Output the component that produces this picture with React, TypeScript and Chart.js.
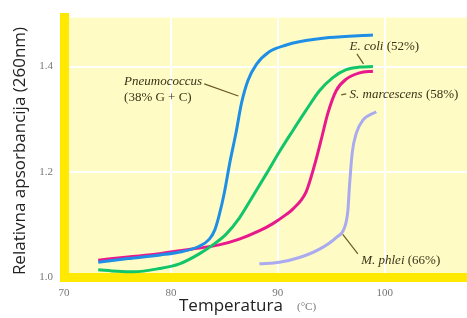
import React, { useEffect, useRef } from "react";
import { Chart, registerables } from "chart.js";

Chart.register(...registerables);

// ---- data (temperature °C, relative absorbance) ----
const pneumoT = [73.2, 76, 79, 81, 82.6, 83.6, 84.1, 84.5, 85, 85.5, 86.1, 86.6, 87.2, 88, 89.2, 90.8, 92, 94.8, 98.9];
const pneumoA = [1.028, 1.035, 1.042, 1.048, 1.058, 1.072, 1.089, 1.116, 1.16, 1.216, 1.275, 1.33, 1.373, 1.404, 1.428, 1.441, 1.447, 1.455, 1.46];

const coliT = [73.2, 75, 76.5, 78.9, 80.8, 82.65, 84.06, 85.15, 86.4, 87.65, 88.9, 90.15, 91.4, 92.65, 93.9, 95.15, 96.4, 97.65, 98.9];
const coliA = [1.014, 1.011, 1.01, 1.016, 1.025, 1.044, 1.063, 1.081, 1.112, 1.153, 1.195, 1.238, 1.278, 1.317, 1.354, 1.379, 1.394, 1.399, 1.4];

const marcT = [73.2, 76, 78.9, 80.8, 82.65, 84.5, 86.4, 88.3, 89.5, 90.8, 91.4, 92.65, 93.43, 94.06, 94.68, 95.46, 96.4, 97.65, 98.9];
const marcA = [1.032, 1.038, 1.044, 1.05, 1.055, 1.061, 1.072, 1.088, 1.101, 1.119, 1.129, 1.162, 1.212, 1.261, 1.311, 1.354, 1.376, 1.388, 1.391];

const phleiT = [88.28, 90.15, 92.02, 93.9, 95.46, 96.24, 96.55, 96.71, 96.96, 97.34, 97.96, 99.21];
const phleiA = [1.025, 1.028, 1.037, 1.053, 1.075, 1.094, 1.125, 1.174, 1.236, 1.273, 1.298, 1.314];

const seriesNames = ["Pneumococcus", "E. coli", "S. marcescens", "M. phlei"];
const seriesPercents = ["(38% G + C)", "(52%)", "(58%)", "(66%)"];
const seriesColors = ["#1f8fe6", "#12c46a", "#e8198c", "#aaaaf0"];

const xTicks = [70, 80, 90, 100];
const yTicks = [1.0, 1.2, 1.4];

const xTitle = "Temperatura";
const xUnit = "(°C)";
const yTitle = "Relativna apsorbancija (260nm)";

// label anchors in data coordinates [T, A] and leader lines
const labelAnchors: number[][] = [
  [75.62, 1.372],
  [96.71, 1.437],
  [96.71, 1.346],
  [97.8, 1.032],
];
const leaderLines: number[][] = [
  [83.12, 1.367, 86.31, 1.344],
  [97.4, 1.424, 98.02, 1.405],
  [95.93, 1.346, 96.4, 1.348],
  [96.08, 1.081, 97.49, 1.044],
];

const zip = (t: number[], a: number[]) => t.map((v, i) => ({ x: v, y: a[i] }));

const decor = {
  id: "decor",
  beforeDraw(chart: any) {
    const { ctx, chartArea } = chart;
    ctx.save();
    ctx.fillStyle = "#fefcc4";
    ctx.fillRect(chartArea.left, chartArea.top, chartArea.right - chartArea.left, chartArea.bottom - chartArea.top);
    ctx.restore();
  },
  afterDatasetsDraw(chart: any) {
    const { ctx } = chart;
    const xs = chart.scales.x;
    const ys = chart.scales.y;
    ctx.save();
    // leaders
    ctx.strokeStyle = "#6a5a24";
    ctx.lineWidth = 1.2;
    for (const l of leaderLines) {
      ctx.beginPath();
      ctx.moveTo(xs.getPixelForValue(l[0]), ys.getPixelForValue(l[1]));
      ctx.lineTo(xs.getPixelForValue(l[2]), ys.getPixelForValue(l[3]));
      ctx.stroke();
    }
    // labels
    ctx.fillStyle = "#3a3218";
    ctx.textBaseline = "middle";
    ctx.textAlign = "left";
    const ital = "italic 13px 'Liberation Serif', serif";
    const up = "13px 'Liberation Serif', serif";
    seriesNames.forEach((name, i) => {
      const px = xs.getPixelForValue(labelAnchors[i][0]);
      const py = ys.getPixelForValue(labelAnchors[i][1]);
      ctx.font = ital;
      ctx.fillText(name, px, py);
      if (i === 0) {
        ctx.font = up;
        ctx.fillText(seriesPercents[i], px, py + 16);
      } else {
        const w = ctx.measureText(name + " ").width;
        ctx.font = up;
        ctx.fillText(seriesPercents[i], px + w, py);
      }
    });
    // axis titles
    ctx.fillStyle = "#222";
    ctx.font = "17px 'Open Sans', sans-serif";
    ctx.textAlign = "left";
    ctx.fillText(xTitle, 179, 306);
    ctx.font = "11px 'Liberation Serif', serif";
    ctx.fillStyle = "#777";
    ctx.fillText(xUnit, 297, 307);
    ctx.translate(20, 151);
    ctx.rotate(-Math.PI / 2);
    ctx.textAlign = "center";
    ctx.fillStyle = "#222";
    ctx.font = "17px 'Open Sans', sans-serif";
    ctx.fillText(yTitle, 0, 0);
    ctx.restore();
  },
};

export default function App() {
  const ref = useRef<HTMLCanvasElement | null>(null);
  useEffect(() => {
    document.body.style.margin = "0";
    const canvas = ref.current;
    if (!canvas) return;
    const allT = [pneumoT, coliT, marcT, phleiT];
    const allA = [pneumoA, coliA, marcA, phleiA];
    const chart = new Chart(canvas, {
      type: "line",
      data: {
        datasets: seriesNames.map((n, i) => ({
          label: n,
          data: zip(allT[i], allA[i]),
          borderColor: seriesColors[i],
          borderWidth: 3,
          pointRadius: 0,
          fill: false,
          cubicInterpolationMode: "monotone" as const,
        })),
      },
      options: {
        animation: false,
        responsive: false,
        devicePixelRatio: 1,
        layout: { padding: { top: 12, right: 0, left: 0, bottom: 0 } },
        plugins: { legend: { display: false }, tooltip: { enabled: false } },
        scales: {
          x: {
            type: "linear",
            min: 70,
            max: 107.7,
            afterBuildTicks: (s: any) => {
              s.ticks = xTicks.map((v) => ({ value: v }));
            },
            afterFit: (s: any) => {
              s.height = 41;
            },
            grid: { color: "#ffffff", lineWidth: 2, drawTicks: false },
            border: { color: "#ffe900", width: 9 },
            ticks: {
              padding: 10,
              color: "#777",
              font: { family: "'Liberation Serif', serif", size: 11 },
              callback: (v: any) => String(v),
              maxRotation: 0,
            },
          },
          y: {
            type: "linear",
            min: 1.0,
            max: 1.493,
            afterBuildTicks: (s: any) => {
              s.ticks = yTicks.map((v) => ({ value: v }));
            },
            afterFit: (s: any) => {
              s.width = 64;
            },
            grid: { color: "#ffffff", lineWidth: 2, drawTicks: false },
            border: { color: "#ffe900", width: 9 },
            ticks: {
              padding: 11,
              color: "#777",
              font: { family: "'Liberation Serif', serif", size: 11 },
              callback: (v: any) => Number(v).toFixed(1),
            },
          },
        },
      },
      plugins: [decor],
    } as any);
    return () => chart.destroy();
  }, []);
  return (
    <div style={{ position: "absolute", left: 0, top: 0, width: 467, height: 318 }}>
      <canvas ref={ref} width={467} height={318} style={{ width: 467, height: 318 }} />
    </div>
  );
}
